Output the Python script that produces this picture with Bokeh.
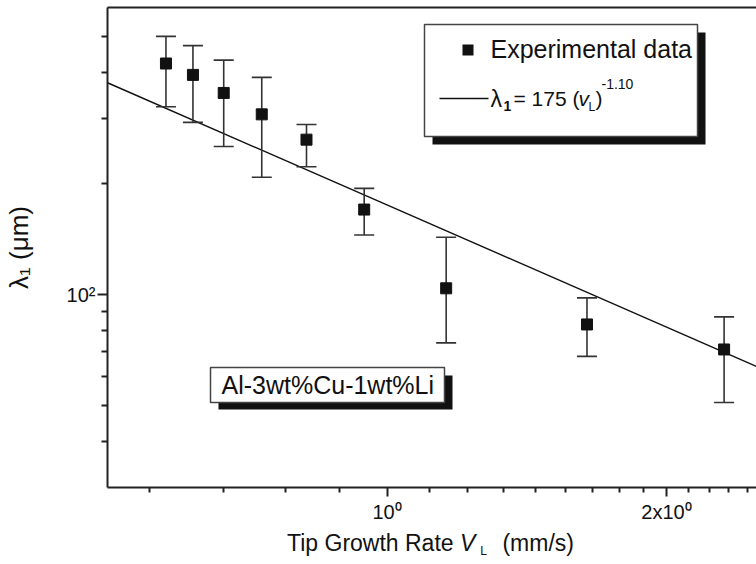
import math
from bokeh.plotting import figure
from bokeh.models import FixedTicker, Label, BoxAnnotation, Arrow, LinearAxis, Div
from bokeh.layouts import column
from bokeh.embed import file_html
from bokeh.resources import INLINE

# ---- data ----
growth_rate = [0.578, 0.618, 0.667, 0.733, 0.819, 0.945, 1.158, 1.642, 2.307]   # mm/s
spacing     = [423, 394, 352, 308, 263, 170, 104, 83, 71]                      # um
err_upper   = [501, 473, 432, 388, 289, 194, 143, 98, 87]
err_lower   = [323, 293, 252, 208, 222, 145, 74, 68, 51]

fit_coeff = 175.0
fit_expo = -1.10
fit_x = [0.5, 2.5]
fit_y = [fit_coeff * v ** fit_expo for v in fit_x]

x_major = [1, 2]
x_minor = [1 - k / 9 for k in range(1, 5)] + [1 + k / 9 for k in range(1, 9)] + [2 + k / 9 for k in range(1, 5)]
y_major = [100]
y_minor = [40, 50, 60, 70, 80, 90, 200, 300, 400, 500]
x_tick_labels = {1: "10⁰", 2: "2x10⁰"}
y_tick_labels = {100: "10²"}

FONT = "Liberation Sans"
INK = "#111111"
AXC = "#222222"

p = figure(width=756, height=530, x_axis_type="log", y_axis_type="log",
           x_range=(0.5, 2.5), y_range=(30, 600),
           output_backend="svg", toolbar_location=None,
           min_border_left=106, min_border_right=0, min_border_top=7, min_border_bottom=43)
p.grid.visible = False
p.outline_line_color = None
p.background_fill_color = "white"
p.border_fill_color = "white"

for ax in (p.xaxis[0], p.yaxis[0]):
    ax.axis_line_color = AXC
    ax.axis_line_width = 2
    ax.major_tick_line_color = AXC
    ax.minor_tick_line_color = AXC
    ax.major_tick_line_width = 2
    ax.minor_tick_line_width = 2
    ax.major_tick_in = 0
    ax.minor_tick_in = 0
    ax.major_label_text_font = FONT
    ax.major_label_text_font_size = "20px"
    ax.major_label_text_color = INK

p.xaxis.ticker = FixedTicker(ticks=x_major, minor_ticks=x_minor)
p.xaxis.major_label_overrides = x_tick_labels
p.xaxis.major_tick_out = 9
p.xaxis.minor_tick_out = 5
p.xaxis.major_label_standoff = 4

p.yaxis.ticker = FixedTicker(ticks=y_major, minor_ticks=y_minor)
p.yaxis.major_label_overrides = y_tick_labels
p.yaxis.major_tick_out = 10
p.yaxis.minor_tick_out = 6
p.yaxis.major_label_standoff = 2
p.yaxis.axis_label = "λ₁ (μm)"
p.yaxis.axis_label_text_font = FONT
p.yaxis.axis_label_text_font_size = "26px"
p.yaxis.axis_label_text_font_style = "normal"
p.yaxis.axis_label_text_color = INK
p.yaxis.axis_label_standoff = 30

# top frame line (no ticks)
top_axis = LinearAxis(ticker=FixedTicker(ticks=[], minor_ticks=[]),
                      axis_line_color=AXC, axis_line_width=2,
                      major_tick_out=0, minor_tick_out=0, major_tick_in=0, minor_tick_in=0,
                      major_label_standoff=0, major_label_text_font_size="0px")
p.add_layout(top_axis, "above")

# fit line
p.line(fit_x, fit_y, line_color=INK, line_width=1.4)

# error bars
p.segment(x0=growth_rate, y0=err_lower, x1=growth_rate, y1=err_upper, line_color="#333333", line_width=1.6)
p.scatter(growth_rate, err_upper, marker="dash", size=20, line_color="#333333", line_width=1.6)
p.scatter(growth_rate, err_lower, marker="dash", size=20, line_color="#333333", line_width=1.6)
# data points
p.scatter(growth_rate, spacing, marker="square", size=11, fill_color=INK, line_color=INK)

def sbox(l, r, b, t, fill, line=None, lw=1.5):
    return BoxAnnotation(left=l, right=r, bottom=b, top=t,
                         left_units="screen", right_units="screen",
                         bottom_units="screen", top_units="screen",
                         fill_color=fill, fill_alpha=1.0,
                         line_color=line, line_alpha=1.0 if line else 0, line_width=lw)

def slabel(x, y, text, size="24px", style="normal"):
    # y is the vertical middle of the text, in screen px above the frame bottom
    return Label(x=x, y=y, x_units="screen", y_units="screen", text=text,
                 text_font=FONT, text_font_size=size, text_font_style=style,
                 text_color=INK, text_align="left", text_baseline="middle")

# legend box with shadow (screen units, relative to the plot frame)
p.add_layout(sbox(325, 598, 343, 455, "#111111"))
p.add_layout(sbox(317, 590, 351, 463, "white", "#444444"))
p.add_layout(sbox(355, 366, 432, 443, INK))
p.add_layout(slabel(383, 439, "Experimental data", "25px"))
p.add_layout(Arrow(x_start=332, y_start=389, x_end=381, y_end=389,
                   start_units="screen", end_units="screen", start=None, end=None,
                   line_color=INK, line_width=1.3))
p.add_layout(slabel(383, 389, "λ", "23px"))
p.add_layout(slabel(396, 382, "1", "14px", "bold"))
p.add_layout(slabel(406, 389, "= 175 (", "21px"))
p.add_layout(slabel(471, 389, "v", "21px", "italic"))
p.add_layout(slabel(481, 381, "L", "12px"))
p.add_layout(slabel(488, 389, ")", "21px"))
p.add_layout(slabel(494, 404, "-1.10", "14px"))

# alloy label box with shadow
p.add_layout(sbox(111, 345, 78, 112, "#111111"))
p.add_layout(sbox(103, 337, 85, 120, "white", "#444444"))
p.add_layout(slabel(114, 103, "Al-3wt%Cu-1wt%Li", "25px"))

# x axis title (rich text: italic V with subscript L)
xlabel = Div(
    text=('<div style="font-family:\'Liberation Sans\';font-size:23px;color:#111111;'
          'padding-left:287px;line-height:26px;white-space:nowrap;margin:0">'
          'Tip Growth Rate <i>V</i><sub style="font-size:12px;vertical-align:-4px;'
          'margin-left:5px;margin-right:9px">L</sub> (mm/s)</div>'),
    width=756, height=34, margin=0)

layout = column(p, xlabel, spacing=0)
open("out.html", "w").write(file_html(layout, INLINE))
